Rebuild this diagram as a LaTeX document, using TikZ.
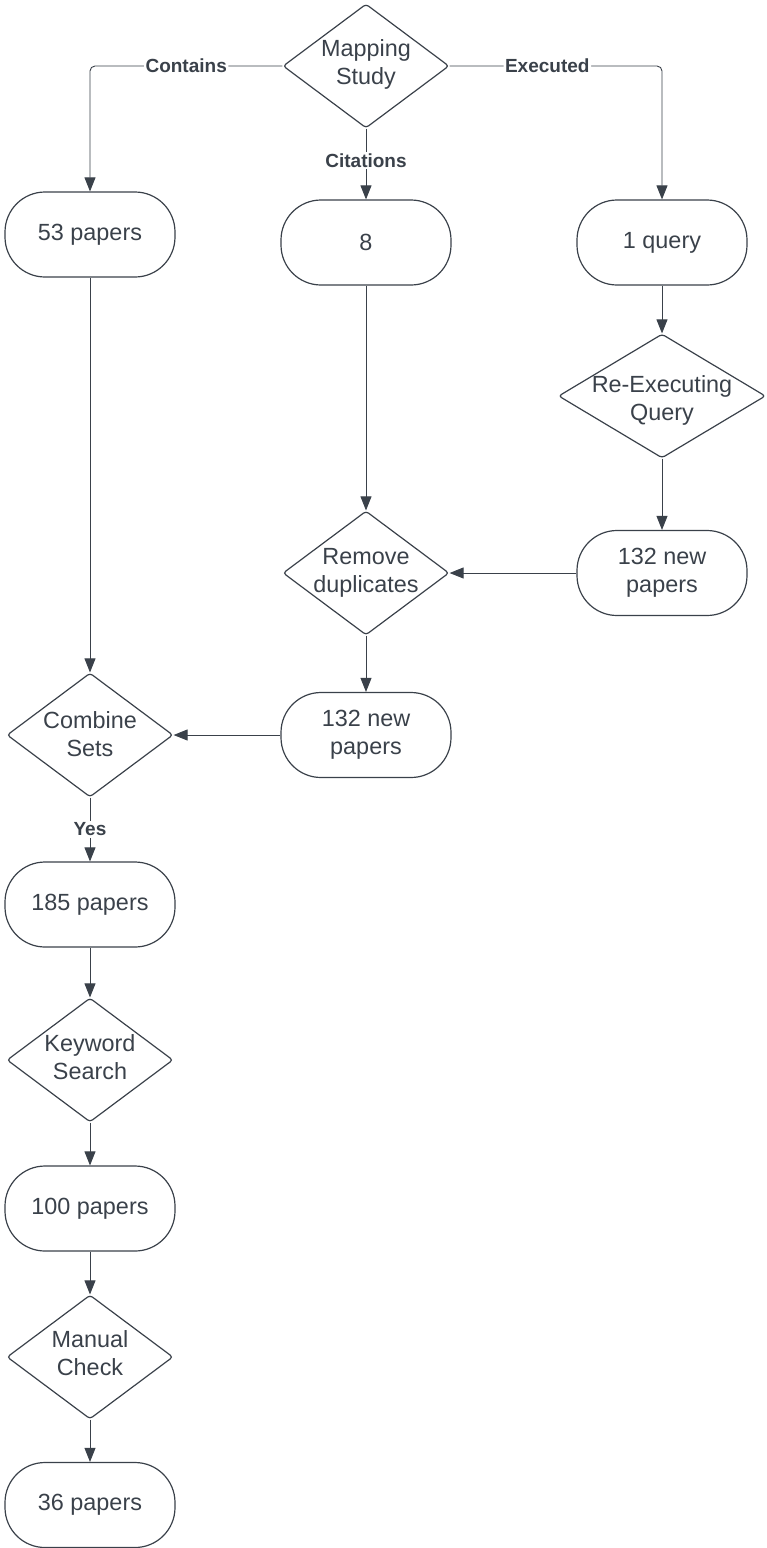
\documentclass[tikz,border=0pt]{standalone}
\usepackage{fontspec}
\setmainfont{Liberation Sans}
\usetikzlibrary{shapes.geometric,arrows.meta}
\definecolor{ink}{RGB}{58,65,74}
\begin{document}
\begin{tikzpicture}[x=1pt,y=-1pt,
  txt/.style={text=ink,align=center,font=\fontsize{23.4}{28}\selectfont},
  dtxt/.style={txt,yshift=2pt},
  term/.style={draw=ink,line width=1.2pt,rounded corners=40pt,minimum width=170pt,minimum height=85pt,inner sep=0pt,txt},
  dia/.style={draw=ink,line width=1.2pt,shape=diamond,rounded corners=3pt,minimum width=166pt,minimum height=124pt,inner sep=0pt},
  conn/.style={draw=ink,line width=0.9pt,-{Triangle[length=14pt,width=11pt]}},
  lbl/.style={fill=white,text=ink,inner sep=1.5pt,font=\fontsize{19}{22}\bfseries\selectfont}]
\useasboundingbox (0,0) rectangle (766,1548);
% nodes
\node[dia,label={[dtxt]center:Mapping\\Study}] (ms) at (366,66) {};
\node[term] (p53) at (90,234.5) {53 papers};
\node[term] (c8) at (366,242.5) {8};
\node[term] (q1) at (662,242.5) {1 query};
\node[dia,minimum width=207pt,label={[txt,yshift=-4pt]center:Re-Executing\\Query}] (rq) at (662,396) {};
\node[term] (n132r) at (662,573) {132 new\\papers};
\node[dia,label={[txt]center:Remove\\duplicates}] (rd) at (366,573) {};
\node[term] (n132m) at (366,735) {132 new\\papers};
\node[dia,label={[txt,yshift=1pt]center:Combine\\Sets}] (cs) at (90,735) {};
\node[term] (p185) at (90,904.5) {185 papers};
\node[dia,label={[txt,yshift=3pt]center:Keyword\\Search}] (ks) at (90,1060) {};
\node[term] (p100) at (90,1208.5) {100 papers};
\node[dia,label={[txt,yshift=3.5pt]center:Manual\\Check}] (mc) at (90,1357) {};
\node[term] (p36) at (90,1505) {36 papers};
% connectors
\draw[conn,rounded corners=5pt] (ms.west) -| node[pos=0.25,lbl]{Contains} (p53.north);
\draw[conn,rounded corners=5pt] (ms.east) -| node[pos=0.23,lbl]{Executed} (q1.north);
\draw[conn] (ms.south) -- node[pos=0.45,lbl]{Citations} (c8.north);
\draw[conn] (p53.south) -- (cs.north);
\draw[conn] (c8.south) -- (rd.north);
\draw[conn] (q1.south) -- (rq.north);
\draw[conn] (rq.south) -- (n132r.north);
\draw[conn] (n132r.west) -- (rd.east);
\draw[conn] (rd.south) -- (n132m.north);
\draw[conn] (n132m.west) -- (cs.east);
\draw[conn] (cs.south) -- node[pos=0.5,lbl]{Yes} (p185.north);
\draw[conn] (p185.south) -- (ks.north);
\draw[conn] (ks.south) -- (p100.north);
\draw[conn] (p100.south) -- (mc.north);
\draw[conn] (mc.south) -- (p36.north);
\end{tikzpicture}
\end{document}
